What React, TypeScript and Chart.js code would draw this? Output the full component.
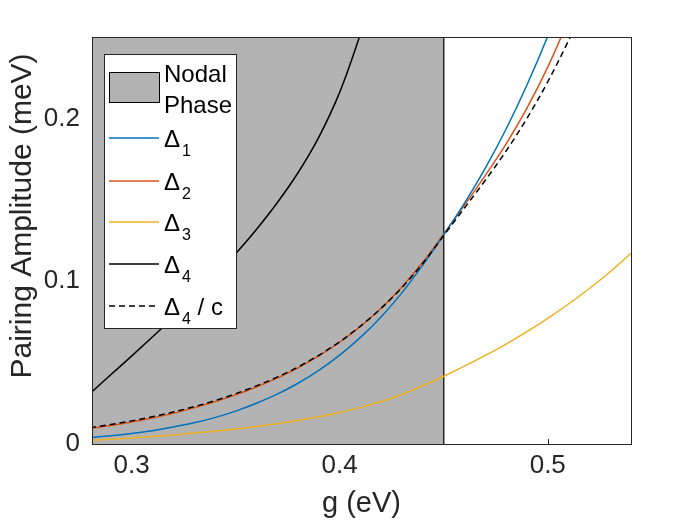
import { useEffect, useRef } from "react";
import { Chart, registerables, Plugin } from "chart.js";

Chart.register(...registerables);

// coupling constant g (eV)
const gValues = [
  0.28, 0.29, 0.3, 0.31, 0.32, 0.33, 0.34, 0.35, 0.36, 0.37, 0.38, 0.39, 0.4, 0.41,
  0.42, 0.43, 0.44, 0.45, 0.46, 0.47, 0.48, 0.49, 0.5, 0.51, 0.52, 0.53, 0.54,
];

// pairing amplitudes (meV), null once the curve has left the plot
const delta1 = [
  0.004, 0.0051, 0.0065, 0.0082, 0.0104, 0.013, 0.0162, 0.0202, 0.025, 0.0306, 0.0373, 0.0452, 0.0546, 0.0655,
  0.0782, 0.093, 0.11, 0.1285, 0.148, 0.1695, 0.1935, 0.2205, 0.2505, 0.284, null, null, null,
];
const delta2 = [
  0.0095, 0.0113, 0.0135, 0.016, 0.0188, 0.0222, 0.0259, 0.0302, 0.035, 0.0405, 0.0468, 0.0541, 0.0625, 0.0723,
  0.0835, 0.0966, 0.1118, 0.129, 0.1467, 0.165, 0.1844, 0.2063, 0.2315, 0.2605, null, null, null,
];
const delta3 = [
  0.0022, 0.0029, 0.0037, 0.0046, 0.0056, 0.0067, 0.0079, 0.0092, 0.0107, 0.0124, 0.0144, 0.0167, 0.0194, 0.0225,
  0.0261, 0.0306, 0.0358, 0.0416, 0.0478, 0.0544, 0.0614, 0.069, 0.0772, 0.086, 0.0955, 0.1058, 0.1172,
];
const delta4 = [
  0.031, 0.0425, 0.054, 0.0657, 0.0777, 0.0901, 0.1031, 0.1169, 0.1318, 0.1482, 0.1666, 0.1885, 0.216, 0.252,
  0.294, null, null, null, null, null, null, null, null, null, null, null, null,
];
const delta4OverC = [
  0.01, 0.012, 0.0142, 0.0167, 0.0196, 0.0229, 0.0266, 0.0309, 0.0357, 0.0411, 0.0473, 0.0545, 0.0628, 0.0724,
  0.0834, 0.0962, 0.111, 0.128, 0.145, 0.162, 0.18, 0.2, 0.2225, 0.2478, 0.276, null, null,
];

const seriesLabels = ["Δ_1", "Δ_2", "Δ_3", "Δ_4", "Δ_4 / c"];
const seriesColors = ["#0072BD", "#D95319", "#EDB120", "#000000", "#000000"];
const seriesDashed = [false, false, false, false, true];
const patchLabel = ["Nodal", "Phase"];

const nodalEdge = 0.45; // end of the nodal phase (eV)
const xRange = [0.281, 0.54];
const yRange = [0, 0.25];
const xTicks = [0.3, 0.4, 0.5];
const yTicks = [0, 0.1, 0.2];

const FONT = "'Liberation Sans', Arial, Helvetica, sans-serif";
const AXIS = "#262626";
const PATCH = "#b3b3b3";

const matlabLook: Plugin<"line"> = {
  id: "matlabLook",
  beforeDatasetsDraw(chart) {
    // inward tick marks, drawn under the data (the patch hides most of them)
    const { ctx, chartArea: a, scales } = chart;
    const len = 5;
    ctx.save();
    ctx.strokeStyle = AXIS;
    ctx.lineWidth = 1;
    ctx.beginPath();
    xTicks.forEach((v) => {
      const px = Math.round(scales.x.getPixelForValue(v)) + 0.5;
      ctx.moveTo(px, a.bottom);
      ctx.lineTo(px, a.bottom - len);
    });
    yTicks.forEach((v) => {
      const py = Math.round(scales.y.getPixelForValue(v)) + 0.5;
      ctx.moveTo(a.left, py);
      ctx.lineTo(a.left + len, py);
    });
    ctx.stroke();
    ctx.restore();
  },
  afterDatasetsDraw(chart) {
    const { ctx, chartArea: a } = chart;
    ctx.save();
    ctx.strokeStyle = AXIS;
    ctx.lineWidth = 1;
    ctx.strokeRect(Math.round(a.left) + 0.5, Math.round(a.top) + 0.5, Math.round(a.right - a.left), Math.round(a.bottom - a.top));
    ctx.restore();
  },
  afterDraw(chart) {
    const { ctx, chartArea: a } = chart;

    // y axis title
    ctx.save();
    ctx.translate(23, 216);
    ctx.rotate(-Math.PI / 2);
    ctx.font = `30px ${FONT}`;
    ctx.fillStyle = AXIS;
    ctx.textAlign = "center";
    ctx.textBaseline = "middle";
    ctx.fillText("Pairing Amplitude (meV)", 0, 0);
    ctx.restore();

    // legend box
    ctx.save();
    const lx = Math.round(a.left) + 12;
    const ly = Math.round(a.top) + 17;
    const lw = 132;
    const lh = 274;
    ctx.fillStyle = "#fff";
    ctx.fillRect(lx, ly, lw, lh);
    ctx.strokeStyle = AXIS;
    ctx.lineWidth = 1;
    ctx.strokeRect(lx + 0.5, ly + 0.5, lw, lh);

    const sx0 = lx + 5;
    const sx1 = lx + 55;
    const tx = lx + 60;

    ctx.fillStyle = PATCH;
    ctx.fillRect(sx0, ly + 18, 50, 30);
    ctx.strokeStyle = "#000";
    ctx.strokeRect(sx0 + 0.5, ly + 18.5, 50, 30);

    ctx.fillStyle = "#000";
    ctx.textAlign = "left";
    ctx.textBaseline = "alphabetic";
    ctx.font = `24px ${FONT}`;
    ctx.fillText(patchLabel[0], tx, ly + 28);
    ctx.fillText(patchLabel[1], tx, ly + 59);

    const rows = [84, 127, 168, 210, 252];
    seriesLabels.forEach((label, i) => {
      const y = ly + rows[i];
      ctx.save();
      ctx.strokeStyle = seriesColors[i];
      ctx.lineWidth = 1.5;
      ctx.setLineDash(seriesDashed[i] ? [6, 4] : []);
      ctx.beginPath();
      ctx.moveTo(sx0, y);
      ctx.lineTo(sx1, y);
      ctx.stroke();
      ctx.restore();

      const [main, rest] = label.split("_");
      const sub = rest.charAt(0);
      const suffix = rest.slice(1);
      ctx.fillStyle = "#000";
      ctx.font = `24px ${FONT}`;
      ctx.fillText(main, tx, y + 8.5);
      let x = tx + ctx.measureText(main).width + 2;
      ctx.font = `16px ${FONT}`;
      ctx.fillText(sub, x, y + 18);
      x += ctx.measureText(sub).width;
      if (suffix) {
        ctx.font = `24px ${FONT}`;
        ctx.fillText(suffix, x, y + 8.5);
      }
    });
    ctx.restore();
  },
};

export default function App() {
  const canvasRef = useRef<HTMLCanvasElement>(null);
  const chartRef = useRef<Chart | null>(null);

  useEffect(() => {
    document.body.style.margin = "0";
    if (!canvasRef.current) return;
    if (chartRef.current) chartRef.current.destroy();

    const series = [delta1, delta2, delta3, delta4, delta4OverC];
    const lineSets = series.map((values, i) => ({
      label: seriesLabels[i],
      data: gValues.map((g, j) => ({ x: g, y: values[j] })),
      borderColor: seriesColors[i],
      borderWidth: 1.5,
      borderDash: seriesDashed[i] ? [6, 4] : [],
      pointRadius: 0,
      fill: false,
      spanGaps: false,
      cubicInterpolationMode: "monotone" as const,
      order: seriesDashed[i] ? 0 : 1,
    }));

    chartRef.current = new Chart(canvasRef.current, {
      type: "line",
      data: {
        datasets: [
          {
            label: patchLabel.join(" "),
            data: [
              { x: xRange[0], y: yRange[1] },
              { x: nodalEdge, y: yRange[1] },
              { x: nodalEdge, y: yRange[0] },
            ],
            borderColor: AXIS,
            borderWidth: 1,
            backgroundColor: PATCH,
            fill: "origin",
            pointRadius: 0,
            tension: 0,
            order: 10,
          },
          ...lineSets,
        ],
      },
      options: {
        responsive: false,
        animation: false,
        layout: { padding: { top: 37, right: 69, left: 0, bottom: 0 } },
        plugins: {
          legend: { display: false },
          tooltip: { enabled: false },
        },
        scales: {
          x: {
            type: "linear",
            min: xRange[0],
            max: xRange[1],
            grid: { display: false, drawTicks: false },
            border: { display: false },
            afterBuildTicks: (scale) => {
              scale.ticks = xTicks.map((value) => ({ value }));
            },
            afterFit: (scale) => {
              scale.height = 81;
            },
            ticks: {
              color: AXIS,
              padding: 6,
              font: { family: FONT, size: 26 },
              callback: (v) => String(v),
            },
            title: {
              display: true,
              text: "g (eV)",
              color: AXIS,
              font: { family: FONT, size: 29 },
              padding: { top: 0, bottom: 4 },
            },
          },
          y: {
            type: "linear",
            min: yRange[0],
            max: yRange[1],
            grid: { display: false, drawTicks: false },
            border: { display: false },
            afterBuildTicks: (scale) => {
              scale.ticks = yTicks.map((value) => ({ value }));
            },
            afterFit: (scale) => {
              scale.width = 92;
            },
            ticks: {
              color: AXIS,
              padding: 12,
              font: { family: FONT, size: 26 },
              callback: (v) => String(v),
            },
          },
        },
      },
      plugins: [matlabLook],
    });

    return () => {
      if (chartRef.current) {
        chartRef.current.destroy();
        chartRef.current = null;
      }
    };
  }, []);

  return (
    <div style={{ width: 700, height: 525, background: "#fff" }}>
      <canvas ref={canvasRef} width={700} height={525} />
    </div>
  );
}
